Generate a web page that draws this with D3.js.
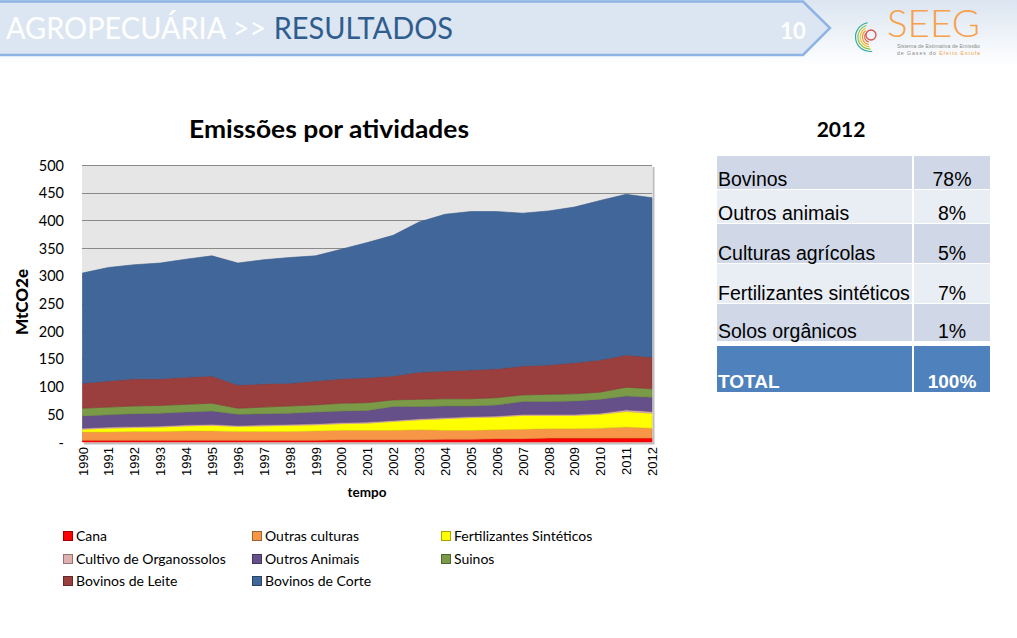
<!DOCTYPE html>
<html><head><meta charset="utf-8">
<script src="https://cdn.jsdelivr.net/npm/d3@7"></script>
<style>html,body{margin:0;padding:0;background:#fff;}svg{display:block;}</style>
</head><body>
<svg id="c" width="1017" height="638"></svg>
<script>
const years = ["1990","1991","1992","1993","1994","1995","1996","1997","1998","1999","2000","2001","2002","2003","2004","2005","2006","2007","2008","2009","2010","2011","2012"];
const seriesNames = ["Cana","Outras culturas","Fertilizantes Sintéticos","Cultivo de Organossolos","Outros Animais","Suinos","Bovinos de Leite","Bovinos de Corte"];
const seriesColors = ["#ff0000","#f79646","#ffff00","#e0b0ae","#66508a","#7a9a48","#9a3f3e","#41679a"];
const cana         = [3,3,3,3,3,3,3,3,3,3,4,4,4,4,5,5,6,6,7,7,7,7,7];
const outrasCult   = [15,15,16,16,17,17,16,16,16,17,17,17,17,18,16,16,16,17,17,17,18,20,18];
const fertiliz     = [5,7,7,8,9,10,9,10,11,11,12,13,16,18,21,23,23,25,24,24,25,28,27];
const organossolos = [2,2,2,2,2,2,2,2,2,2,2,2,2,2,2,2,2,2,2,2,2,3,3];
const outrosAnim   = [22,22,23,23,23,24,20,20,20,21,21,21,25,22,21,19,20,23,23,24,25,25,26];
const suinos       = [14,14,14,14,14,14,11,12,13,13,14,14,12,13,13,13,13,12,13,13,13,16,15];
const bovLeite     = [45,47,49,48,49,49,42,42,41,43,44,45,43,49,50,52,52,52,53,56,58,58,57];
const bovCorte     = [199,205,206,209,213,217,220,224,227,226,234,244,254,271,283,286,284,276,278,281,288,290,288];
const yTicks = [0,50,100,150,200,250,300,350,400,450,500];
const yTickLabels = ["-","50","100","150","200","250","300","350","400","450","500"];
const tableLabels = ["Bovinos","Outros animais","Culturas agrícolas","Fertilizantes sintéticos","Solos orgânicos"];
const tableValues = ["78%","8%","5%","7%","1%"];
const totalLabel = "TOTAL", totalValue = "100%";

const allSeries = [cana,outrasCult,fertiliz,organossolos,outrosAnim,suinos,bovLeite,bovCorte];
const rows = years.map((yr,i)=>{const o={year:yr}; seriesNames.forEach((n,k)=>o[n]=allSeries[k][i]); return o;});

const svg = d3.select("#c");
const calibri = "Lato, 'Open Sans', sans-serif";
const arial = "'Liberation Sans', Arial, sans-serif";

// ---------- header ----------
const defs = svg.append("defs");
const g1 = defs.append("linearGradient").attr("id","hdr").attr("x1",0).attr("y1",0).attr("x2",0).attr("y2",1);
g1.append("stop").attr("offset","0").attr("stop-color","#dbe5f1");
g1.append("stop").attr("offset","1").attr("stop-color","#ffffff");
svg.append("rect").attr("x",0).attr("y",0).attr("width",1017).attr("height",66).attr("fill","url(#hdr)");
svg.append("path").attr("d","M-5,1.5 L803,1.5 L830,28 L803,55 L-5,55 Z")
  .attr("fill","#dce6f2").attr("stroke","#8eb4e3").attr("stroke-width",2.5);
const ht = svg.append("text").attr("x",6).attr("y",39).attr("font-family",calibri).attr("font-size",30)
  .attr("textLength",447).attr("lengthAdjust","spacingAndGlyphs");
ht.append("tspan").attr("fill","#ffffff").text("AGROPECUÁRIA >> ");
ht.append("tspan").attr("fill","#2f5d8e").text("RESULTADOS");
svg.append("text").attr("x",793).attr("y",39).attr("text-anchor","middle").attr("font-family",calibri)
  .attr("font-weight","bold").attr("font-size",22).attr("fill","#ffffff").text("10");

// logo
const arcCols = ["#2aa9a0","#8cc43f","#f4c22b","#f7941d","#e25a3c"];
arcCols.forEach((c,i)=>{
  const r = 15 - i*2.3;
  svg.append("path").attr("transform","translate(870,37)")
    .attr("d", d3.arc()({innerRadius:r-1.1,outerRadius:r,startAngle:-Math.PI*0.05 - i*0.15,endAngle:-Math.PI*1.05 + i*0.1}))
    .attr("fill",c);
});
svg.append("circle").attr("cx",871).attr("cy",35).attr("r",5).attr("fill","none").attr("stroke","#d9534f").attr("stroke-width",1.3);
svg.append("text").attr("x",887).attr("y",37).attr("font-family",calibri).attr("font-weight",300).attr("font-size",37)
  .attr("fill","#f7a14a").attr("textLength",93).attr("lengthAdjust","spacingAndGlyphs").text("SEEG");
svg.append("text").attr("x",897).attr("y",48).attr("font-family",arial).attr("font-size",5.2).attr("fill","#8a8a8a")
  .attr("textLength",83).text("Sistema de Estimativa de Emissão");
const st = svg.append("text").attr("x",897).attr("y",55).attr("font-family",arial).attr("font-size",5.2).attr("textLength",83);
st.append("tspan").attr("fill","#8a8a8a").text("de Gases do ");
st.append("tspan").attr("fill","#f7a14a").text("Efeito Estufa");

// ---------- chart ----------
const x = d3.scalePoint().domain(years).range([82.5,652]);
const y = d3.scaleLinear().domain([0,500]).range([442,165]);

svg.append("rect").attr("x",82).attr("y",165).attr("width",570).attr("height",277).attr("fill","#e6e6e6");
svg.append("path").attr("d","M653.5,167 V443.5 H84").attr("fill","none").attr("stroke","#bdbdbd").attr("stroke-width",2);

svg.append("g").selectAll("line").data(yTicks.filter(d=>d>0)).join("line")
  .attr("x1",82).attr("x2",652).attr("y1",d=>Math.round(y(d))+0.5).attr("y2",d=>Math.round(y(d))+0.5)
  .attr("stroke","#8a8a8a").attr("stroke-width",1);

const stack = d3.stack().keys(seriesNames);
const layers = stack(rows);
const area = d3.area().x(d=>x(d.data.year)).y0(d=>y(d[0])).y1(d=>y(d[1]));
svg.append("g").selectAll("path").data(layers).join("path")
  .attr("d",area).attr("fill",(d,i)=>seriesColors[i])
  .attr("stroke",(d,i)=>d3.color(seriesColors[i]).darker(0.4)).attr("stroke-width",0.6);

// y axis
const yAxis = d3.axisLeft(y).tickValues(yTicks).tickFormat((d,i)=>yTickLabels[i]).tickSize(0).tickPadding(0);
const ya = svg.append("g").attr("transform","translate(64,0)").call(yAxis);
ya.select(".domain").remove();
ya.selectAll("text").attr("font-family",calibri).attr("font-size",14.5).attr("fill","#000").attr("dy","0.35em");

// x axis
const xAxis = d3.axisBottom(x).tickSize(0).tickPadding(0);
const xa = svg.append("g").attr("transform","translate(0,447)").call(xAxis);
xa.select(".domain").remove();
xa.selectAll(".tick text").attr("font-family",arial).attr("font-size",13).attr("fill","#000")
  .attr("transform","rotate(-90)").attr("text-anchor","end").attr("x",0).attr("y",0).attr("dy","0.35em");

svg.append("text").attr("x",367).attr("y",497).attr("text-anchor","middle").attr("font-family",calibri)
  .attr("font-weight","bold").attr("font-size",13.5).text("tempo");
svg.append("text").attr("transform","translate(28,302) rotate(-90)").attr("text-anchor","middle").attr("font-family",calibri)
  .attr("font-weight",900).attr("font-size",17).text("MtCO2e");
svg.append("text").attr("x",329).attr("y",138).attr("text-anchor","middle").attr("font-family",calibri)
  .attr("font-weight","bold").attr("font-size",25).attr("textLength",280).attr("lengthAdjust","spacingAndGlyphs")
  .text("Emissões por atividades");

// legend
const legCols = [63,252,441], legRows = [536,559,581];
const leg = svg.append("g").selectAll("g").data(seriesNames).join("g")
  .attr("transform",(d,i)=>`translate(${legCols[i%3]},${legRows[Math.floor(i/3)]})`);
leg.append("rect").attr("x",0.5).attr("y",-4.5).attr("width",9).attr("height",9)
  .attr("fill",(d,i)=>seriesColors[i]).attr("stroke",(d,i)=>d3.color(seriesColors[i]).darker(1.2)).attr("stroke-width",1);
leg.append("text").attr("x",13).attr("y",0).attr("dy","0.35em").attr("font-family",calibri).attr("font-size",14).text(d=>d);

// ---------- table ----------
svg.append("text").attr("x",841).attr("y",137).attr("text-anchor","middle").attr("font-family",calibri)
  .attr("font-weight","bold").attr("font-size",21).text("2012");
const rowTops = [156,190,224,264,304];
const rowBots = [189,223,263,303,341];
const tx0 = 717, tx1 = 913, tx2 = 990;
const tg = svg.append("g");
tableLabels.forEach((lab,i)=>{
  const fill = i%2===0 ? "#d0d8e8" : "#e9edf4";
  tg.append("rect").attr("x",tx0).attr("y",rowTops[i]).attr("width",tx1-tx0-1).attr("height",rowBots[i]-rowTops[i]).attr("fill",fill);
  tg.append("rect").attr("x",tx1+1).attr("y",rowTops[i]).attr("width",tx2-tx1-1).attr("height",rowBots[i]-rowTops[i]).attr("fill",fill);
  tg.append("text").attr("x",tx0+1).attr("y",rowBots[i]-3).attr("font-family",arial).attr("font-size",19.5).attr("fill","#000").text(lab);
  tg.append("text").attr("x",952).attr("y",rowBots[i]-3).attr("text-anchor","middle").attr("font-family",arial).attr("font-size",19.5).attr("fill","#000").text(tableValues[i]);
});
tg.append("rect").attr("x",tx0).attr("y",346).attr("width",tx1-tx0-1).attr("height",46).attr("fill","#4f81bd");
tg.append("rect").attr("x",tx1+1).attr("y",346).attr("width",tx2-tx1-1).attr("height",46).attr("fill","#4f81bd");
tg.append("text").attr("x",tx0+1).attr("y",388).attr("font-family",arial).attr("font-weight","bold").attr("font-size",19).attr("fill","#fff").text(totalLabel);
tg.append("text").attr("x",952).attr("y",388).attr("text-anchor","middle").attr("font-family",arial).attr("font-weight","bold").attr("font-size",19).attr("fill","#fff").text(totalValue);
</script>
</body></html>
